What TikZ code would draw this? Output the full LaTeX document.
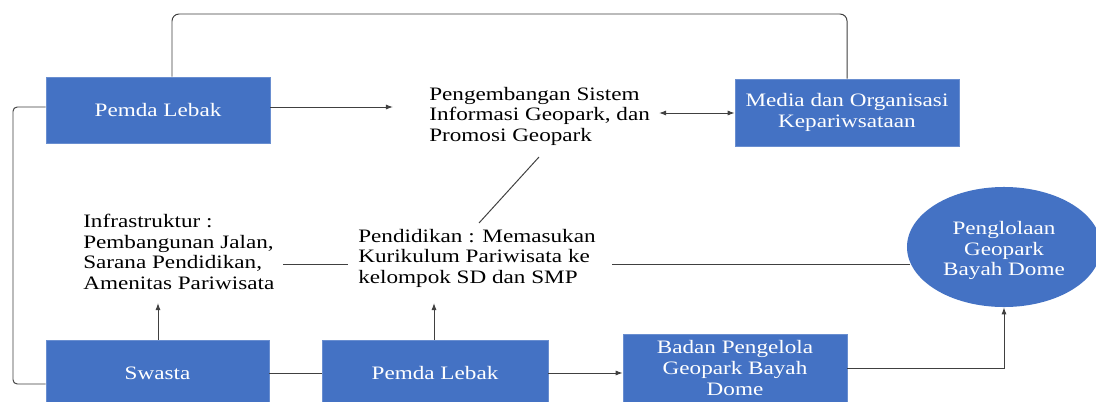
\documentclass[tikz,border=0pt]{standalone}
\usepackage{fontspec}
\setmainfont{Liberation Serif}[FakeStretch=1.22]
\usetikzlibrary{arrows.meta,shapes.geometric}
\definecolor{boxblue}{HTML}{4472C4}
\definecolor{linegray}{HTML}{404040}
\tikzset{
  box/.style={rectangle, fill=boxblue, draw=boxblue!80!white, text=white, align=center,
    inner sep=0pt, minimum width=5.6cm, minimum height=1.65cm},
  txt/.style={align=left, inner sep=0pt, anchor=west},
  conn/.style={draw=linegray, line width=0.7pt},
  arr/.style={conn, -{Latex[length=5pt,width=3.6pt]}},
  dblarr/.style={conn, {Latex[length=5pt,width=3.6pt]}-{Latex[length=5pt,width=3.6pt]}},
}
\begin{document}
\begin{tikzpicture}[x=0.025cm, y=-0.025cm, font=\fontsize{13.5}{14.6}\selectfont]
  \clip (0,0) rectangle (1096,401);
  \fill[white] (0,0) rectangle (1096,401);
  \draw
    (158,110) node[box] (pemdaA) {Pemda Lebak}
    (847,112.5) node[box, minimum height=1.675cm] (media) {Media dan Organisasi\\Kepariwsataan}
    (157.5,373) node[box, minimum width=5.575cm] (swasta) {Swasta}
    (435,373) node[box, minimum width=5.65cm] (pemdaB) {Pemda Lebak}
    (735,368) node[box, minimum height=1.7cm] (badan) {Badan Pengelola\\Geopark Bayah\\Dome}
    (1004,247) node[ellipse, fill=boxblue, text=white, align=center, inner sep=0pt,
      minimum width=4.85cm, minimum height=3cm] (geo) {\raisebox{-0.1cm}[\height][\depth]{%
      \begin{tabular}{@{}c@{}}Penglolaan\\Geopark\\Bayah Dome\end{tabular}}}
    (429,116) node[txt] (pg) {Pengembangan Sistem\\Informasi Geopark, dan\\Promosi Geopark}
    (83,252) node[txt] (infra) {Infrastruktur :\\Pembangunan Jalan,\\Sarana Pendidikan,\\Amenitas Pariwisata}
    (358,258) node[txt] (pend) {Pendidikan : Memasukan\\Kurikulum Pariwisata ke\\kelompok SD dan SMP};
  \coordinate (pgTip) at (393,107);
  \coordinate (dblL) at (659,113);
  \coordinate (topR) at (847,14);
  \coordinate (leftB) at (13,384);
  \coordinate (infraTip) at (158,303);
  \coordinate (pendTip) at (434,303);
  \coordinate (diagT) at (539,157);
  \coordinate (diagB) at (479,223);
  \coordinate (l1a) at (283,264);
  \coordinate (l1b) at (348,264);
  \coordinate (l2a) at (612,264);
  \draw[arr] (pemdaA.east |- pgTip) -- (pgTip);
  \draw[dblarr] (dblL) -- (dblL -| media.west);
  \draw[conn, rounded corners=5pt] ([xshift=0.35cm]pemdaA.north) |- (topR) -- (media.north);
  \draw[conn, rounded corners=3pt] (pemdaA.west |- pgTip) -| (leftB) -- (swasta.west |- leftB);
  \draw[arr] (swasta.north -| infraTip) -- (infraTip);
  \draw[arr] (pemdaB.north -| pendTip) -- (pendTip);
  \draw[conn] (swasta) -- (pemdaB);
  \draw[arr] (pemdaB.east) -- (pemdaB.east -| badan.west);
  \draw[arr] (badan.east) -| (geo.south);
  \draw[conn] (diagT) -- (diagB);
  \draw[conn] (l1a) -- (l1b);
  \draw[conn] (l2a) -- (l2a -| geo.190);
\end{tikzpicture}
\end{document}
